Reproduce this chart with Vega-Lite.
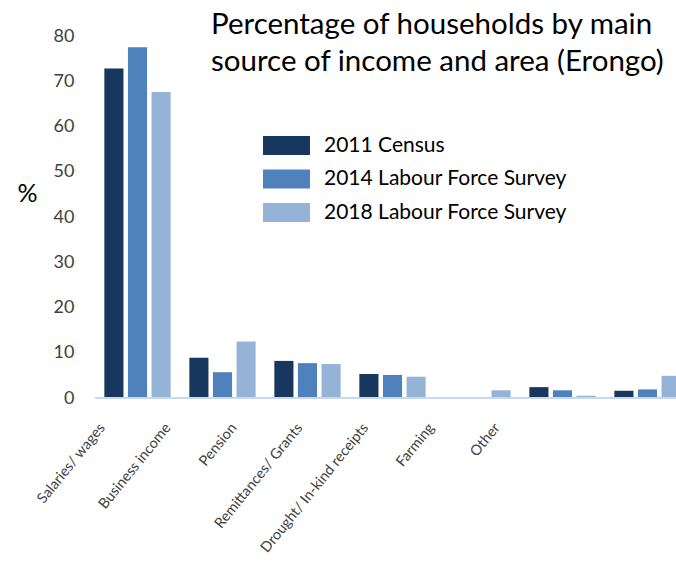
{
  "$schema": "https://vega.github.io/schema/vega-lite/v6.json",
  "autosize": {"type": "none"},
  "width": 581,
  "height": 362,
  "padding": {"left": 95, "top": 36, "right": 0, "bottom": 167},
  "background": "white",
  "config": {"view": {"stroke": null}, "font": "Lato"},
  "title": {
    "text": ["Percentage of households by main", "source of income and area (Erongo)"],
    "frame": "group",
    "anchor": "start",
    "align": "left",
    "baseline": "alphabetic",
    "dx": 116,
    "offset": -73,
    "font": "Lato",
    "fontSize": 29.5,
    "fontWeight": "normal",
    "color": "#000000",
    "lineHeight": 37
  },
  "data": {
    "values": [
      {"source": "Salaries/ wages", "series": "2011 Census", "value": 72.8},
      {"source": "Salaries/ wages", "series": "2014 Labour Force Survey", "value": 77.5},
      {"source": "Salaries/ wages", "series": "2018 Labour Force Survey", "value": 67.6},
      {"source": "Business income", "series": "2011 Census", "value": 8.9},
      {"source": "Business income", "series": "2014 Labour Force Survey", "value": 5.7},
      {"source": "Business income", "series": "2018 Labour Force Survey", "value": 12.5},
      {"source": "Pension", "series": "2011 Census", "value": 8.2},
      {"source": "Pension", "series": "2014 Labour Force Survey", "value": 7.7},
      {"source": "Pension", "series": "2018 Labour Force Survey", "value": 7.5},
      {"source": "Remittances/ Grants", "series": "2011 Census", "value": 5.3},
      {"source": "Remittances/ Grants", "series": "2014 Labour Force Survey", "value": 5.1},
      {"source": "Remittances/ Grants", "series": "2018 Labour Force Survey", "value": 4.7},
      {"source": "Drought/ In-kind receipts", "series": "2011 Census", "value": 0},
      {"source": "Drought/ In-kind receipts", "series": "2014 Labour Force Survey", "value": 0},
      {"source": "Drought/ In-kind receipts", "series": "2018 Labour Force Survey", "value": 1.7},
      {"source": "Farming", "series": "2011 Census", "value": 2.4},
      {"source": "Farming", "series": "2014 Labour Force Survey", "value": 1.7},
      {"source": "Farming", "series": "2018 Labour Force Survey", "value": 0.5},
      {"source": "Other", "series": "2011 Census", "value": 1.6},
      {"source": "Other", "series": "2014 Labour Force Survey", "value": 1.9},
      {"source": "Other", "series": "2018 Labour Force Survey", "value": 4.9}
    ]
  },
  "layer": [
    {
      "mark": {"type": "bar", "clip": true},
      "encoding": {
        "x": {
          "field": "source", "type": "nominal",
          "sort": ["Salaries/ wages", "Business income", "Pension", "Remittances/ Grants", "Drought/ In-kind receipts", "Farming", "Other"],
          "scale": {"range": [0, 595], "paddingInner": 0.22, "paddingOuter": 0.11},
          "axis": null
        },
        "xOffset": {
          "field": "series", "type": "nominal",
          "scale": {"paddingInner": 0.19, "paddingOuter": 0}
        },
        "y": {
          "field": "value", "type": "quantitative",
          "scale": {"domain": [0, 80], "nice": false},
          "axis": {
            "values": [0, 10, 20, 30, 40, 50, 60, 70, 80],
            "grid": false, "domain": false, "ticks": false,
            "labelFont": "Lato", "labelFontSize": 18, "labelColor": "#404040",
            "labelPadding": 21,
            "title": "%", "titleAngle": 0, "titleFont": "Lato", "titleFontSize": 25,
            "titleFontWeight": "normal", "titleColor": "#000000",
            "titleX": -68, "titleY": 157, "titleAlign": "center", "titleBaseline": "middle"
          }
        },
        "color": {
          "field": "series", "type": "nominal",
          "scale": {
            "domain": ["2011 Census", "2014 Labour Force Survey", "2018 Labour Force Survey"],
            "range": ["#17375E", "#4F81BD", "#95B3D7"]
          },
          "legend": {
            "title": null,
            "orient": "none",
            "legendX": 181,
            "legendY": 99,
            "padding": 0,
            "symbolType": "M-2.5,-1H2.5V1H-2.5Z",
            "symbolSize": 353,
            "symbolStrokeWidth": 0,
            "symbolOpacity": 1,
            "labelOffset": 27,
            "rowPadding": 11.5,
            "labelFont": "Lato",
            "labelFontSize": 21,
            "labelColor": "#000000",
            "labelLimit": 400
          }
        }
      }
    },
    {
      "mark": {"type": "rule", "color": "#C6D9F1", "strokeWidth": 2},
      "encoding": {"y": {"datum": 0}}
    },
    {
      "mark": {"type": "point", "opacity": 0},
      "encoding": {
        "x": {
          "field": "source", "type": "nominal",
          "sort": ["Salaries/ wages", "Business income", "Pension", "Remittances/ Grants", "Drought/ In-kind receipts", "Farming", "Other"],
          "scale": {"type": "point", "range": [7, 402], "padding": 0},
          "axis": {
            "orient": "bottom",
            "title": null, "domain": false, "ticks": false,
            "labelAngle": -51, "labelFont": "Lato", "labelFontSize": 14.5,
            "labelColor": "#404040", "labelPadding": 27, "labelLimit": 300
          }
        }
      }
    }
  ],
  "resolve": {"scale": {"x": "independent"}, "axis": {"x": "independent"}}
}
